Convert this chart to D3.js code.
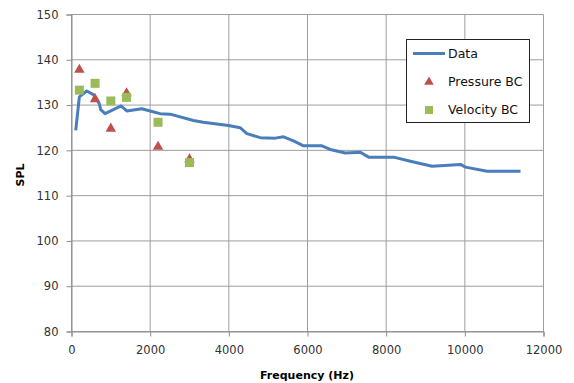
<!DOCTYPE html>
<html><head><meta charset="utf-8">
<script src="https://cdn.jsdelivr.net/npm/d3@7"></script>
<style>body{margin:0;background:#fff}svg{display:block}text{font-family:"DejaVu Sans",Verdana,sans-serif}</style>
</head><body>
<svg id="c" width="574" height="383"></svg>
<script>
const dataFreq = [107,200,387,556,708,742,853,1064,1260,1404,1787,1998,2252,2507,3100,3347,3991,4288,4459,4797,5180,5390,5645,5900,6367,6578,6960,7342,7554,8190,8615,9168,9890,10017,10567,11415];
const dataSPL  = [124.4,131.8,133.1,132.3,130.3,129.0,128.1,129.0,129.8,128.7,129.2,128.7,128.1,128.0,126.6,126.2,125.5,125.0,123.7,122.8,122.7,123.0,122.1,121.0,121.0,120.2,119.4,119.6,118.5,118.5,117.6,116.5,116.9,116.3,115.4,115.4];
const bcFreq = [200,600,1000,1400,2200,3000];
const pressureBC = [137.8,131.3,124.8,132.6,120.8,118.0];
const velocityBC = [133.3,134.8,130.9,131.7,126.2,117.3];
const xTicks = [0,2000,4000,6000,8000,10000,12000];
const yTicks = [80,90,100,110,120,130,140,150];
const seriesNames = ["Data","Pressure BC","Velocity BC"];

const svg = d3.select("#c");
const x = d3.scaleLinear().domain([0,12000]).range([71.5,543.5]);
const y = d3.scaleLinear().domain([80,150]).range([331.5,14.5]);
const gridCol = "#9e9e9e";

// gridlines
svg.append("g").selectAll("line.h").data(yTicks).join("line")
  .attr("x1",x(0)).attr("x2",x(12000)).attr("y1",d=>y(d)).attr("y2",d=>y(d))
  .attr("stroke",gridCol).attr("stroke-width",1);
svg.append("g").selectAll("line.v").data(xTicks).join("line")
  .attr("y1",y(80)).attr("y2",y(150)).attr("x1",d=>x(d)).attr("x2",d=>x(d))
  .attr("stroke",gridCol).attr("stroke-width",1);

// axes
const xAxis = svg.append("g").attr("transform",`translate(0,${y(80)})`)
  .call(d3.axisBottom(x).tickValues(xTicks).tickSize(5).tickPadding(9).tickFormat(d3.format("d")));
const yAxis = svg.append("g").attr("transform",`translate(${x(0)},0)`)
  .call(d3.axisLeft(y).tickValues(yTicks).tickSize(5).tickPadding(8));
[xAxis,yAxis].forEach(a=>{
  a.select(".domain").attr("stroke","#8c8c8c");
  a.selectAll(".tick line").attr("stroke","#8c8c8c");
  a.selectAll(".tick text").attr("fill","#333").style("font-size","11.5px").style("font-family","'DejaVu Sans',Verdana,sans-serif");
});

// axis titles
svg.append("text").attr("x",307).attr("y",379).attr("text-anchor","middle")
  .style("font-size","11px").style("font-weight","bold").text("Frequency (Hz)");
svg.append("text").attr("transform","translate(24,175) rotate(-90)").attr("text-anchor","middle")
  .style("font-size","11px").style("font-weight","bold").text("SPL");

// data line
const line = d3.line().x(d=>x(d[0])).y(d=>y(d[1]));
svg.append("path").datum(dataFreq.map((f,i)=>[f,dataSPL[i]]))
  .attr("d",line).attr("fill","none").attr("stroke","#4a7ebb").attr("stroke-width",3)
  .attr("stroke-linejoin","round");

const tri = d3.symbol().type(d3.symbolTriangle).size(48);
svg.append("g").selectAll("path").data(bcFreq.map((f,i)=>[f,pressureBC[i]])).join("path")
  .attr("d",tri).attr("transform",d=>`translate(${x(d[0])},${y(d[1])})`).attr("fill","#c0504d");
svg.append("g").selectAll("rect").data(bcFreq.map((f,i)=>[f,velocityBC[i]])).join("rect")
  .attr("x",d=>x(d[0])-4.5).attr("y",d=>y(d[1])-4.5).attr("width",9).attr("height",9).attr("fill","#9bbb59");

// legend
const lg = svg.append("g");
lg.append("rect").attr("x",406.5).attr("y",39.5).attr("width",123).attr("height",83)
  .attr("fill","#fff").attr("stroke","#222").attr("stroke-width",1);
lg.append("line").attr("x1",413).attr("x2",445).attr("y1",53.5).attr("y2",53.5).attr("stroke","#4a7ebb").attr("stroke-width",3);
lg.append("path").attr("d",d3.symbol().type(d3.symbolTriangle).size(40)).attr("transform","translate(429,82)").attr("fill","#c0504d");
lg.append("rect").attr("x",425).attr("y",106).attr("width",8).attr("height",8).attr("fill","#9bbb59");
lg.selectAll("text").data(seriesNames).join("text")
  .attr("x",448).attr("y",(d,i)=>53.5+i*28.3).attr("dy","0.35em")
  .style("font-size","12.5px").attr("fill","#111").text(d=>d);
</script>
</body></html>
